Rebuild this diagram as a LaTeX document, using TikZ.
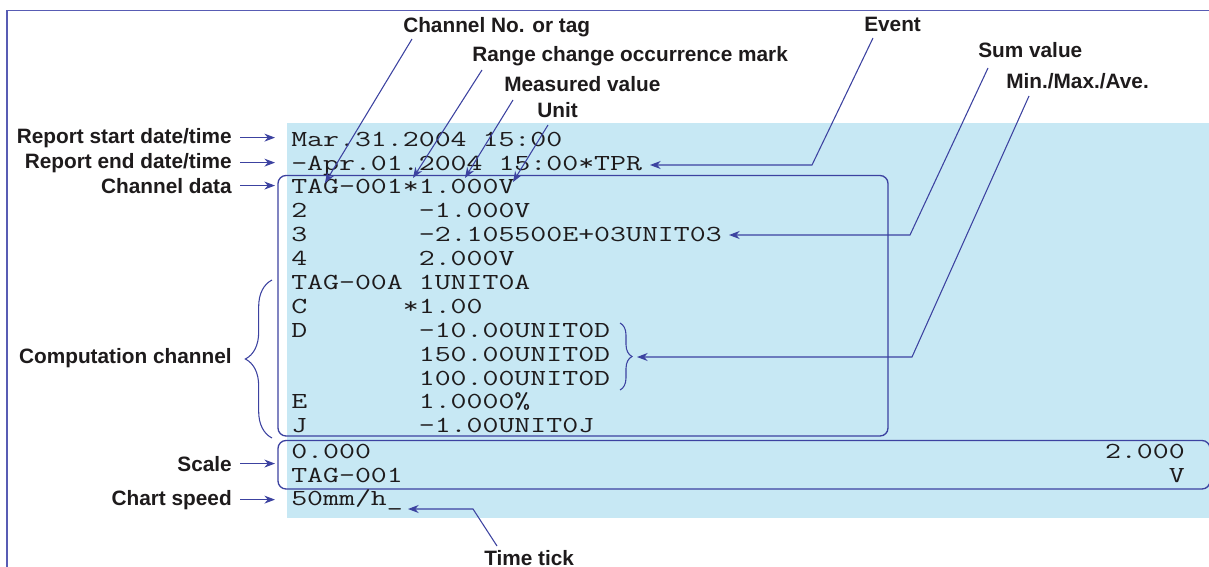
\documentclass[tikz,border=0pt]{standalone}
\usepackage{fontspec}
\setmainfont{Liberation Sans}
\usepackage{graphicx}
\usetikzlibrary{arrows.meta,decorations.pathreplacing}
\definecolor{bgblue}{RGB}{199,232,244}
\definecolor{ln}{RGB}{60,66,160}
\definecolor{frm}{RGB}{88,92,180}
\definecolor{tx}{RGB}{30,27,28}
\newcommand\mono[1]{\scalebox{1.35}[1]{\ttfamily\fontsize{17.2pt}{20pt}\selectfont #1}}
\tikzset{
  lbl/.style={inner sep=0pt, text=tx, font=\bfseries\fontsize{15.6pt}{18pt}\selectfont},
  mt/.style={inner sep=0pt, text=tx, anchor=base west},
  mtr/.style={inner sep=0pt, text=tx, anchor=base east},
  arr/.style={draw=ln, line width=0.8pt, -{Stealth[length=8pt,width=6pt,inset=2.6pt]}},
  boxline/.style={draw=ln, line width=1pt, rounded corners=6pt},
  frameline/.style={draw=frm, line width=1.2pt},
  brc/.style={draw=ln, line width=0.8pt, decorate}
}
\begin{document}
\begin{tikzpicture}[x=0.75pt,y=-0.75pt]
\useasboundingbox (0,0) rectangle (1209,567);
\clip (0,0) rectangle (1209,567);
% background and frame
\fill[bgblue] (287,123) rectangle (1215,518);
\draw[frameline] (7,600) -- (7,10.5) -- (1230,10.5);
\draw[boxline] (278,175.5) rectangle (888,436);
\draw[boxline] (278,440.5) rectangle (1210,489);

% printed text
\node[mt] (r1) at (291,146) {\mono{Mar.31.2004 15:00}};
\node[mt] (r2) at (291,170) {\mono{-Apr.01.2004 15:00*TPR}};
\node[mt] (r3) at (291,193) {\mono{TAG-001*1.000V}};
\node[mt] (r4) at (291,217) {\mono{2~~~~~~~-1.000V}};
\node[mt] (r5) at (291,241) {\mono{3~~~~~~~-2.105500E+03UNIT03}};
\node[mt] (r6) at (291,265) {\mono{4~~~~~~~2.000V}};
\node[mt] (r7) at (291,289) {\mono{TAG-00A 1UNIT0A}};
\node[mt] (r8) at (291,313) {\mono{C~~~~~~*1.00}};
\node[mt] (r9) at (291,337) {\mono{D~~~~~~~-10.00UNIT0D}};
\node[mt] (r10) at (291,361) {\mono{~~~~~~~~150.00UNIT0D}};
\node[mt] (r11) at (291,385) {\mono{~~~~~~~~100.00UNIT0D}};
\node[mt] (r12) at (291,408) {\mono{E~~~~~~~1.0000\%}};
\node[mt] (r13) at (291,432) {\mono{J~~~~~~~-1.00UNIT0J}};
\node[mt] (r14) at (291,458) {\mono{0.000}};
\node[mtr] (r14b) at (1185,458) {\mono{2.000}};
\node[mt] (r15) at (291,482) {\mono{TAG-001}};
\node[mtr] (r15b) at (1185,482) {\mono{V}};
\node[mt] (r16) at (291,505) {\mono{50mm/h\_}};

% left labels
\node[lbl, anchor=base east] (lstart) at (232,143) {Report start date/time};
\node[lbl, anchor=base east] (lend) at (232,168) {Report end date/time};
\node[lbl, anchor=base east] (lchan) at (232,193) {Channel data};
\node[lbl, anchor=base east] (lcomp) at (232,363) {Computation channel};
\node[lbl, anchor=base east] (lscale) at (232,471) {Scale};
\node[lbl, anchor=base east] (lspeed) at (232,505) {Chart speed};

\draw[arr] ([xshift=6pt]lstart.east) -- ++(35,0);
\draw[arr] ([xshift=6pt]lend.east) -- ++(35,0);
\draw[arr] ([xshift=6pt]lchan.east) -- ++(35,0);
\draw[arr] ([xshift=6pt]lscale.east) -- ++(35,0);
\draw[arr] ([xshift=6pt]lspeed.east) -- ++(35,0);

% computation brace
\coordinate (cbA) at (272,438);
\coordinate (cbB) at (272,280);
\draw[brc, decoration={brace, amplitude=20pt}] (cbA) -- (cbB);

% top labels
\node[lbl, anchor=base west] (ltag) at (403,33) {Channel No. or tag};
\node[lbl, anchor=base west] (lrange) at (472,61) {Range change occurrence mark};
\node[lbl, anchor=base west] (lmeas) at (504,92) {Measured value};
\node[lbl, anchor=base west] (lunit) at (537,117) {Unit};
\node[lbl, anchor=base west] (levent) at (864,32) {Event};
\node[lbl, anchor=base west] (lsum) at (978,58) {Sum value};
\node[lbl, anchor=base west] (lmin) at (1006,89) {Min./Max./Ave.};
\node[lbl, anchor=base west] (ltick) at (484,565) {Time tick};

% leader coordinates
\coordinate (tagS) at (412,39);   \coordinate (tagT) at (325,183);
\coordinate (rngS) at (482,70);   \coordinate (rngT) at (413,178);
\coordinate (measS) at (513,100); \coordinate (measT) at (465,178);
\coordinate (unitS) at (548,125); \coordinate (unitT) at (513,182);
\coordinate (evS) at (873,38);    \coordinate (evK) at (812,165); \coordinate (evT) at (650,165);
\coordinate (sumS) at (988,68);   \coordinate (sumK) at (910,235); \coordinate (sumT) at (729,235);
\coordinate (minS) at (1029,96);  \coordinate (minK) at (912,357); \coordinate (minT) at (637,357);
\coordinate (tickS) at (497,546); \coordinate (tickK) at (473,509); \coordinate (tickT) at (408,509);

\draw[arr] (tagS) -- (tagT);
\draw[arr] (rngS) -- (rngT);
\draw[arr] (measS) -- (measT);
\draw[arr] (unitS) -- (unitT);
\draw[arr] (evS) -- (evK) -- (evT);
\draw[arr] (sumS) -- (sumK) -- (sumT);
\draw[arr] (minS) -- (minK) -- (minT);
\draw[arr] (tickS) -- (tickK) -- (tickT);

% min/max/ave brace
\coordinate (dbA) at (620,323);
\coordinate (dbB) at (620,390);
\draw[brc, decoration={brace, amplitude=9pt}] (dbA) -- (dbB);
\end{tikzpicture}
\end{document}
